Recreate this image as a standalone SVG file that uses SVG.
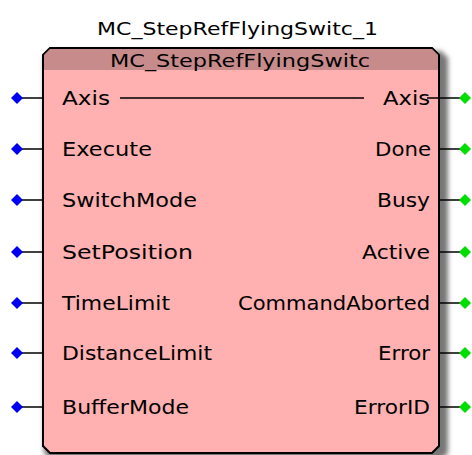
<svg xmlns="http://www.w3.org/2000/svg" width="472" height="455" viewBox="0 0 472 455">
<defs>
<style>
text{font-family:"DejaVu Sans","Liberation Sans",sans-serif;fill:#000}
.lbl{font-size:19px}
.hdr{font-size:18px}
.pin{stroke:#000;stroke-width:1.5}
.in{fill:#0000ee}
.out{fill:#00dd00}
</style>
<filter id="sh" x="-10%" y="-10%" width="120%" height="120%">
<feGaussianBlur stdDeviation="2.5"/>
</filter>
</defs>
<rect width="472" height="455" fill="#fff"/>
<text class="hdr" x="97" y="35" textLength="281" lengthAdjust="spacingAndGlyphs">MC_StepRefFlyingSwitc_1</text>
<g id="block">
<path d="M48,50 H438 L445,57 V452 L438,459 H48 L41,452 V57 Z" fill="#777" filter="url(#sh)" transform="translate(3,1)"/>
<path d="M50,48 H432 L439,55 V446 L432,453 H50 L43,446 V55 Z" fill="#ffb0b0" stroke="#000" stroke-width="2"/>
<path d="M50,49 H432 L438,55 V70 H44 V55 Z" fill="#c88b8b"/>
<text class="hdr" x="110" y="67" textLength="260" lengthAdjust="spacingAndGlyphs">MC_StepRefFlyingSwitc</text>
</g>
<g id="connectors">
<line class="pin" x1="17" y1="98" x2="43" y2="98"/>
<line class="pin" x1="17" y1="149" x2="43" y2="149"/>
<line class="pin" x1="17" y1="200" x2="43" y2="200"/>
<line class="pin" x1="17" y1="252" x2="43" y2="252"/>
<line class="pin" x1="17" y1="303" x2="43" y2="303"/>
<line class="pin" x1="17" y1="353" x2="43" y2="353"/>
<line class="pin" x1="17" y1="407" x2="43" y2="407"/>
<line class="pin" x1="439" y1="98" x2="465" y2="98"/>
<line class="pin" x1="439" y1="149" x2="465" y2="149"/>
<line class="pin" x1="439" y1="200" x2="465" y2="200"/>
<line class="pin" x1="439" y1="252" x2="465" y2="252"/>
<line class="pin" x1="439" y1="303" x2="465" y2="303"/>
<line class="pin" x1="439" y1="353" x2="465" y2="353"/>
<line class="pin" x1="439" y1="407" x2="465" y2="407"/>
<line class="pin" x1="120" y1="98" x2="364" y2="98"/>
<line class="pin" x1="427" y1="98" x2="439" y2="98"/>
</g>
<g id="inputs">
<polygon class="in" points="17,92 23,98 17,104 11,98"/>
<polygon class="in" points="17,143 23,149 17,155 11,149"/>
<polygon class="in" points="17,194 23,200 17,206 11,200"/>
<polygon class="in" points="17,246 23,252 17,258 11,252"/>
<polygon class="in" points="17,297 23,303 17,309 11,303"/>
<polygon class="in" points="17,347 23,353 17,359 11,353"/>
<polygon class="in" points="17,401 23,407 17,413 11,407"/>
</g>
<g id="outputs">
<polygon class="out" points="465,92 471,98 465,104 459,98"/>
<polygon class="out" points="465,143 471,149 465,155 459,149"/>
<polygon class="out" points="465,194 471,200 465,206 459,200"/>
<polygon class="out" points="465,246 471,252 465,258 459,252"/>
<polygon class="out" points="465,297 471,303 465,309 459,303"/>
<polygon class="out" points="465,347 471,353 465,359 459,353"/>
<polygon class="out" points="465,401 471,407 465,413 459,407"/>
</g>
<g id="labels">
<text class="lbl" x="62" y="105" textLength="48" lengthAdjust="spacingAndGlyphs">Axis</text>
<text class="lbl" x="62" y="156" textLength="90" lengthAdjust="spacingAndGlyphs">Execute</text>
<text class="lbl" x="62" y="207" textLength="135" lengthAdjust="spacingAndGlyphs">SwitchMode</text>
<text class="lbl" x="62" y="259" textLength="131" lengthAdjust="spacingAndGlyphs">SetPosition</text>
<text class="lbl" x="62" y="310" textLength="108" lengthAdjust="spacingAndGlyphs">TimeLimit</text>
<text class="lbl" x="62" y="360" textLength="150" lengthAdjust="spacingAndGlyphs">DistanceLimit</text>
<text class="lbl" x="62" y="414" textLength="127" lengthAdjust="spacingAndGlyphs">BufferMode</text>
<text class="lbl" x="383" y="105" textLength="47" lengthAdjust="spacingAndGlyphs">Axis</text>
<text class="lbl" x="375" y="156" textLength="56" lengthAdjust="spacingAndGlyphs">Done</text>
<text class="lbl" x="377" y="207" textLength="53" lengthAdjust="spacingAndGlyphs">Busy</text>
<text class="lbl" x="362" y="259" textLength="68" lengthAdjust="spacingAndGlyphs">Active</text>
<text class="lbl" x="238" y="310" textLength="192" lengthAdjust="spacingAndGlyphs">CommandAborted</text>
<text class="lbl" x="378" y="360" textLength="52" lengthAdjust="spacingAndGlyphs">Error</text>
<text class="lbl" x="354" y="414" textLength="76" lengthAdjust="spacingAndGlyphs">ErrorID</text>
</g>
</svg>
